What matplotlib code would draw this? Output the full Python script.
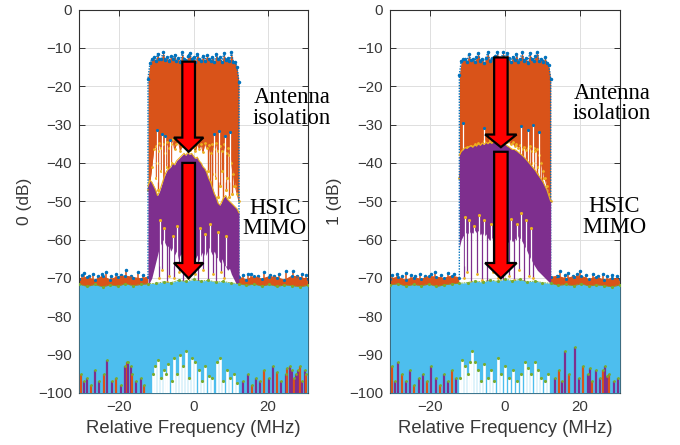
import numpy as np
import matplotlib
matplotlib.use("Agg")
import matplotlib.pyplot as plt
from matplotlib.patches import FancyArrow

plt.rcParams['font.family'] = ['Liberation Sans', 'DejaVu Sans']

BLUE = '#0072BD'
ORANGE = '#D95319'
YELLOW = '#EDB120'
PURPLE = '#7E2F8E'
GREEN = '#77AC30'
CYAN = '#4DBEEE'
BAND = 12.2

# frequency grids (MHz)
band_f = np.linspace(-BAND, BAND, 49)
floor_f = np.array([-30.7, -28.6, -26.5, -24.4, -22.4, -20.3, -18.3, -16.2, -14.2, -12.2,
                    -10, -8, -6, -4, -2, 0, 2, 4, 6, 8, 10,
                    12.2, 14.2, 16.2, 18.3, 20.3, 22.4, 24.4, 26.5, 28.6, 30.7])

# ---------------- receiver 0 ----------------
orange_top_0 = [-18, -14, -13, -12.5, -13.5, -11.5, -13, -12.8, -11, -13.2, -12.5, -13.5, -12,
                -13, -11.8, -13.4, -12.6, -13.8, -11.2, -12.9, -13.5, -12.2, -11.3, -13, -12.4,
                -13.6, -11.5, -12.8, -13.3, -12, -13.5, -11.8, -12.9, -13.4, -12.3, -13.7, -11.6,
                -13, -12.5, -13.8, -11.4, -13.1, -12.7, -13.5, -11.2, -13.6, -13.8, -15, -19]
orange_low_0 = [-47, -45, -41, -36.5, -35.5, -37, -34.8, -36.2, -35, -37.5, -34.5, -36, -35.2,
                -33.8, -36.5, -35, -34.2, -36.8, -35.5, -34, -36, -35.3, -36.6, -34.6, -35.8,
                -37, -34.9, -36.3, -35.1, -37.2, -34.7, -36.1, -35.4, -37.5, -35, -36.4, -34.8,
                -37, -35.6, -36.9, -35.2, -37.3, -36, -38, -40, -43, -46, -48, -50]
purple_top_0 = [-46, -44.5, -45, -46, -47, -48.5, -47.5, -46, -44.5, -43, -42, -41.5, -41,
                -40, -40.5, -39.5, -39, -38.5, -38, -37.5, -38, -37.2, -37.8, -37.5, -38.2,
                -38.8, -38.5, -39.5, -40, -41, -41.5, -42.5, -44, -45, -46.5, -48, -49, -50.5,
                -51, -50, -49, -48.5, -49.5, -50, -50.5, -51, -51.5, -52, -53]
purple_low_0 = [-72, -71, -70, -68, -66, -64, -62, -61, -60, -61, -62, -61.5, -63, -62, -64,
                -63, -65, -64, -63.5, -65, -64, -66, -65, -64.5, -66, -65, -64, -65.5, -64, -63,
                -64.5, -63.5, -62, -63, -64, -63, -64.5, -65, -66, -65, -66.5, -67, -68, -67.5,
                -69, -70, -71, -72, -72]
floor_top_0 = [-70.4, -69.8, -70.6, -69.6, -70.5, -69.7, -69.5, -69.9, -70.2, -69.8,
               -70, -70, -70, -70, -70, -70, -70, -70, -70, -70, -70,
               -69.8, -70.5, -69.6, -70.3, -69.7, -69.9, -70.6, -69.5, -69.9, -70.4]
cyan_top_0 = [-71.6, -72.2, -71.7, -72.3, -71.8, -72.1, -71.5, -72.0, -71.7, -71.5,
              -71.4, -71.0, -71.2, -70.6, -70.9, -70.4, -70.8, -70.6, -71.1, -70.9, -71.3,
              -71.5, -71.9, -71.6, -72.1, -71.7, -72.2, -71.8, -72.0, -72.3, -71.9]
floor_spike_f0 = [-30.0, -29.5, -28.1, -27.0, -25.6, -24.6, -23.5, -22.1, -20.9, -19.4, -18.0,
                  -16.8, -15.0, -13.6, 13.4, 14.6, 15.5, 17.2, 19.0, 20.4, 21.7, 22.9, 24.9,
                  26.7, 27.9, 29.0, 30.2]
floor_spike_y0 = [-69.2, -68.6, -69.5, -69.0, -69.4, -69.1, -68.5, -69.6, -69.0, -69.3, -68.0,
                  -69.4, -68.4, -69.2, -69.3, -69.0, -68.9, -69.5, -68.4, -69.2, -69.6, -69.1,
                  -68.3, -68.2, -69.4, -69.0, -69.3]
ogap_f0 = [-10.1, -9.7, -9.4, -8.8, -8.3, -8.0, -7.3, -6.9, -6.6, -6.0, 3.9, 4.3, 5.0, 5.4,
           5.8, 6.5, 7.2, 7.6, 8.0, 8.7, 9.1, 9.5, 10.3, 10.8]
ogap_y0 = [-44, -40, -47, -42, -46, -45, -41, -44, -43, -40, -42, -45, -48, -43, -44, -49, -46,
           -42, -50, -47, -44, -49, -48, -46]
onotch_f0 = [-9.8, -8.5, -7.6, -6.2, 5.4, 6.9, 8.4, 9.9]
onotch_y0 = [-31.5, -32.5, -33, -34, -32.5, -31.8, -33, -32]
pspike_f0 = [-9.3, -8.4, -7.2, -6.5, -5.1, -3.8, -2.9, -1.6, 0.4, 1.3, 2.6, 3.9, 5.2, 6.1, 7.4, 8.3]
pspike_y0 = [-70, -68, -71, -69.5, -70, -68.5, -71, -70, -69, -71, -68, -70.5, -69, -71, -68.5, -70]
pnotch_f0 = [-8.9, -7.8, -5.6, -4.4, -2.2, -0.9, 1.8, 3.1, 4.5, 6.7, 8.8]
pnotch_y0 = [-55, -57, -59, -56.5, -58, -60, -57, -58.5, -56, -58, -59]
cgap_in_f0 = [-10.8, -10.2, -9.5, -8.6, -7.9, -7.4, -6.8, -5.9, -5.2, -4.3, -3.5, -2.8, -2.1,
              -1.2, -0.4, 0.5, 1.4, 2.3, 3.2, 4.1, 5.0, 6.2, 7.1, 8.0, 8.9, 9.8, 10.9, 11.8]
cgap_in_y0 = [-95, -93, -91.5, -96, -94, -95, -92.5, -97, -91, -95, -90, -93, -89, -96, -91,
              -92, -94, -97, -93, -95.5, -96, -92, -91, -97, -94, -96, -95, -97.5]
cgap_out_f0 = [-30.2, -29.4, -28.6, -27.5, -26.3, -25.4, -24.1, -23.2, -22.0, -20.8, -19.5,
               -18.4, -17.9, -17.6, -16.9, -16.5, -15.3, -14.2, -13.3, 13.4, 14.5, 15.6, 16.8,
               17.9, 19.0, 20.2, 21.3, 22.5, 23.6, 24.7, 25.2, 25.8, 26.4, 26.9, 27.5, 28.1,
               28.6, 29.2, 29.8, 30.3]
cgap_out_y0 = [-95, -97, -96, -98, -94, -97, -95, -91.5, -97, -96, -98, -93, -92, -92, -93,
               -95, -97, -96, -98, -97, -95, -98, -96, -97, -94, -96, -93, -94.5, -97, -95,
               -93.5, -93, -94, -96, -95, -94, -93, -97, -94, -95]

# ---------------- receiver 1 ----------------
orange_top_1 = [-17, -13.5, -13, -12.8, -13.6, -11.6, -13.2, -12.9, -13.7, -12.4, -11.4, -13.3,
                -12.8, -13.9, -12.6, -11.1, -13.4, -12.7, -13.5, -12.2, -11.2, -13.6, -12.9,
                -11.0, -13.1, -11.3, -12.6, -13.8, -12.3, -13.2, -11.5, -13.6, -12.8, -11.2,
                -13.4, -12.7, -13.9, -11.3, -12.9, -13.3, -12.1, -11.1, -13.5, -12.8, -13.6,
                -12.4, -13.9, -14.5, -18]
orange_low_1 = [-44, -40, -37, -36.5, -35.8, -36.2, -35.5, -36, -35.2, -35.9, -34.8, -35.6, -35,
                -34.4, -35.3, -34.7, -34, -34.9, -34.2, -33.8, -34.6, -34, -33.5, -34.3, -33.8,
                -34.5, -34, -35.2, -34.6, -35.5, -35, -36, -35.4, -36.3, -35.8, -36.6, -36,
                -35.5, -36.8, -36.2, -37, -36.5, -38, -40, -42, -44, -46, -48, -50]
purple_top_1 = [-38, -37, -36.5, -36, -36.2, -35.8, -35.5, -35.9, -35.3, -35.6, -35, -35.4,
                -34.8, -35.2, -34.6, -35, -34.5, -34.9, -34.4, -34.8, -34.5, -35, -34.7, -35.2,
                -35, -35.5, -35.8, -36.2, -36.5, -36.5, -36.8, -37.2, -37.6, -38, -38.5, -39,
                -39.6, -40.2, -40.8, -41.4, -42, -42.8, -43.5, -44.2, -45, -46, -47, -48.5, -50]
purple_low_1 = [-62, -60, -59, -58.5, -58, -58.6, -57.8, -58.4, -57.5, -58.2, -57.6, -58.8, -58,
                -59.2, -58.5, -59.6, -60.2, -59.4, -60.8, -61.2, -60.5, -61.8, -62.5, -61.6,
                -62.2, -61, -60.4, -59.8, -60.6, -59.6, -60.2, -59, -59.8, -60.5, -61.5, -62.4,
                -63.5, -64.6, -65.5, -66.4, -67.2, -68, -68.5, -69, -69.5, -70, -70.5, -71, -71.5]
floor_top_1 = [-70.3, -69.8, -70.6, -69.9, -70.4, -69.6, -69.8, -70.1, -69.5, -70.0,
               -70, -70, -70, -70, -70, -70, -70, -70, -70, -70, -70,
               -69.8, -69.6, -70.2, -69.7, -69.5, -70.4, -69.8, -70.6, -70.1, -70.4]
cyan_top_1 = [-71.8, -71.5, -72.1, -71.7, -72.0, -71.6, -72.2, -71.8, -71.5, -71.4,
              -71.2, -70.8, -71.1, -70.5, -70.9, -70.3, -70.7, -70.4, -71.0, -70.8, -71.2,
              -71.4, -71.9, -71.7, -72.0, -71.5, -72.1, -71.8, -72.0, -72.3, -71.8]
floor_spike_f1 = [-30.1, -28.9, -27.6, -26.5, -25.2, -24.0, -22.6, -21.4, -19.9, -18.6, -17.2,
                  -15.2, -13.5, 13.8, 14.8, 16.0, 16.9, 18.2, 19.3, 20.0, 21.6, 23.5, 24.8,
                  26.1, 27.3, 28.7, 30.0]
floor_spike_y1 = [-69.3, -69.0, -69.5, -68.8, -69.2, -69.4, -68.9, -69.5, -69.1, -68.4, -69.3,
                  -68.6, -69.0, -69.4, -68.3, -69.2, -68.8, -69.5, -69.1, -68.2, -69.3, -68.9,
                  -69.4, -69.0, -69.5, -69.2, -69.4]
ogap_f1 = [4.1, 4.5, 4.8, 5.5, 5.9, 6.3, 7.0, 7.4, 7.8, 8.5, 8.9, 9.3, 10.0, 10.5]
ogap_y1 = [-41, -39, -43, -40, -42, -44, -42, -40, -45, -43, -41, -46, -45, -44]
onotch_f1 = [-11.3, -5.6, 4.4, 6.1, 7.5, 9.0]
onotch_y1 = [-29.5, -31, -30.5, -31.5, -30, -32]
pspike_f1 = [-11.0, -10.2, -9.1, -7.5, -6.2, -4.9, -3.1, -1.8, -0.5, 1.1, 2.4, 3.8, 5.0, 6.4, 7.6]
pspike_y1 = [-70, -68.5, -71, -69, -70.5, -71, -68.5, -70, -71, -69.5, -70.5, -68, -71, -69.5, -70]
pnotch_f1 = [-10.6, -9.6, -8.3, -7.0, -5.5, -3.8, -2.4, 0.3, 1.7, 3.2, 4.4, 5.7, 7.0]
pnotch_y1 = [-54, -55, -56.5, -53.5, -55, -56, -57, -55.5, -54.5, -56, -53, -55, -57]
cgap_in_f1 = [-12.0, -11.4, -10.6, -9.8, -9.3, -8.8, -8.0, -7.1, -6.3, -5.6, -4.6, -3.7, -2.9,
              -2.0, -1.0, 0.1, 1.2, 2.2, 3.3, 4.4, 5.3, 6.1, 7.0, 7.9, 8.7, 9.6, 10.6, 11.6]
cgap_in_y1 = [-96, -91.5, -93, -95, -92, -89, -92, -94, -97, -92.5, -96, -94, -97, -91, -95,
              -93, -96, -94, -97, -95, -92, -93.5, -95, -92, -94, -96, -97, -95]
cgap_out_f1 = [-30.3, -29.5, -28.5, -27.6, -26.5, -25.3, -24.2, -23.0, -21.9, -20.9, -19.7,
               -18.5, -17.4, -16.4, -15.2, -14.1, -13.2, 13.3, 14.3, 15.3, 16.0, 17.1, 18.7,
               19.8, 20.9, 22.1, 22.7, 23.2, 24.4, 25.5, 26.1, 26.7, 27.3, 27.9, 29.1, 30.2]
cgap_out_y1 = [-93, -97, -92, -95, -97, -94, -98, -96, -95, -97, -93, -96, -98, -95, -97,
               -94, -96, -96, -94, -97, -89, -95, -88, -96, -93, -95, -93.5, -97, -94, -96,
               -94, -93, -95.5, -95, -97, -96]

panels = [
    dict(otop=orange_top_0, olow=orange_low_0, ptop=purple_top_0, plow=purple_low_0,
         ftop=floor_top_0, ctop=cyan_top_0, fsf=floor_spike_f0, fsy=floor_spike_y0,
         ogf=ogap_f0, ogy=ogap_y0, onf=onotch_f0, ony=onotch_y0, psf=pspike_f0, psy=pspike_y0,
         pnf=pnotch_f0, pny=pnotch_y0, cif=cgap_in_f0, ciy=cgap_in_y0,
         cof=cgap_out_f0, coy=cgap_out_y0, ylabel='0 (dB)', ylab_x=-0.205,
         arrows=[(-1.3, -13.6, -37.1, 3.4, 7.9, 3.7), (-1.3, -40.0, -70.1, 3.4, 7.9, 4.0)],
         ant=(26.4, -25.7), hsic=(21.8, -54.6)),
    dict(otop=orange_top_1, olow=orange_low_1, ptop=purple_top_1, plow=purple_low_1,
         ftop=floor_top_1, ctop=cyan_top_1, fsf=floor_spike_f1, fsy=floor_spike_y1,
         ogf=ogap_f1, ogy=ogap_y1, onf=onotch_f1, ony=onotch_y1, psf=pspike_f1, psy=pspike_y1,
         pnf=pnotch_f1, pny=pnotch_y1, cif=cgap_in_f1, ciy=cgap_in_y1,
         cof=cgap_out_f1, coy=cgap_out_y1, ylabel='1 (dB)', ylab_x=-0.21,
         arrows=[(-1.1, -12.5, -35.9, 3.6, 8.4, 3.3), (-1.1, -37.1, -70.1, 3.6, 8.4, 4.0)],
         ant=(28.6, -24.5), hsic=(29.2, -54.1)),
]


def draw_panel(ax, p):
    out = np.abs(floor_f) >= BAND
    ftop = np.array(p['ftop'], dtype=float)
    # orange noise floor outside the band
    ax.fill_between(floor_f, -76, ftop, where=out, color=ORANGE, lw=0, zorder=2)
    ax.vlines(p['fsf'], -72, p['fsy'], color=ORANGE, lw=1.1, zorder=2)
    ax.plot(p['fsf'], p['fsy'], ls='none', marker='.', ms=3, color=BLUE, zorder=2.1)
    ax.plot(floor_f, np.where(out, ftop, np.nan), color=ORANGE, lw=0.8, marker='.',
            ms=2.5, mfc=BLUE, mec=BLUE, zorder=2.1)

    # signal before cancellation
    ax.vlines(p['ogf'], p['ogy'], -30, color=ORANGE, lw=1.0, zorder=1.9)
    ax.plot(p['ogf'], p['ogy'], ls='none', marker='.', ms=2.5, color=YELLOW, zorder=1.95)
    ax.fill_between(band_f, p['olow'], p['otop'], color=ORANGE, lw=0, zorder=2)
    ax.plot(band_f, p['olow'], color=ORANGE, lw=0.7, marker='.', ms=2, mfc=YELLOW,
            mec=YELLOW, zorder=2.2)
    ax.vlines(p['onf'], -45, p['ony'], color='white', lw=0.9, zorder=2.3)
    ax.plot(p['onf'], p['ony'], ls='none', marker='.', ms=2.5, color=BLUE, zorder=2.35)
    ax.plot(np.r_[-BAND, band_f, BAND], np.r_[-70, p['otop'], -70], color=BLUE, lw=1.0,
            ls=(0, (1, 1)), zorder=2.4)
    ax.plot(band_f, p['otop'], ls='none', marker='.', ms=3, color=BLUE, zorder=2.4)

    # after HSIC
    ax.vlines(p['psf'], p['psy'], -55, color=PURPLE, lw=0.9, zorder=3)
    ax.fill_between(band_f, p['plow'], p['ptop'], color=PURPLE, lw=0, zorder=3)
    ax.plot(band_f, p['ptop'], color=YELLOW, lw=0.8, zorder=3.2)
    ax.vlines(p['pnf'], -67, p['pny'], color='white', lw=0.9, zorder=3.1)
    ax.plot(p['pnf'], p['pny'], ls='none', marker='.', ms=2.5, color=YELLOW, zorder=3.15)
    ax.plot(p['psf'], p['psy'], ls='none', marker='.', ms=2, color=YELLOW, zorder=3.15)

    # after MIMO decoding: residual noise floor
    ax.fill_between(floor_f, -100, p['ctop'], color=CYAN, lw=0, zorder=4)
    ax.vlines(p['cif'], -100, p['ciy'], color='white', lw=1.9, zorder=4.1)
    ax.plot(p['cif'], p['ciy'], ls='none', marker='.', ms=2.5, color=GREEN, zorder=4.2)
    cols = [PURPLE if i % 3 else ORANGE for i in range(len(p['cof']))]
    ax.vlines(p['cof'], -100, p['coy'], colors=cols, lw=1.6, zorder=4.1)
    ax.plot(p['cof'], p['coy'], ls='none', marker='.', ms=2, color=GREEN, zorder=4.2)
    ax.plot(floor_f, p['ctop'], color=GREEN, lw=0.6, ls=(0, (2, 1)), marker='.', ms=2.5,
            zorder=4.3)

    for x, y0, y1, w, hw, hl in p['arrows']:
        ax.add_patch(FancyArrow(x, y0, 0, y1 - y0, width=w, head_width=hw, head_length=hl,
                                length_includes_head=True, fc='#FF0000', ec='black',
                                lw=1.6, zorder=6))

    txt = dict(family=['Liberation Serif', 'DejaVu Serif'], fontsize=16.3, ha='center',
               va='center', multialignment='center', linespacing=0.95, clip_on=False,
               zorder=7)
    ax.text(*p['ant'], 'Antenna\nisolation', **txt)
    ax.text(*p['hsic'], 'HSIC\nMIMO', **txt)

    ax.set_xlim(-30.72, 30.72)
    ax.set_ylim(-100, 0)
    ax.set_xticks([-20, 0, 20])
    ax.set_yticks(np.arange(-100, 1, 10))
    ax.grid(True, color='#dedede', lw=0.7)
    ax.set_axisbelow(True)
    ax.tick_params(direction='in', top=True, right=True, length=4, width=0.7,
                   labelsize=10.8, labelcolor='#383838', color='#303030', pad=5)
    for s in ax.spines.values():
        s.set_color('#303030')
        s.set_linewidth(0.8)
    ax.set_xlabel('Relative Frequency (MHz)', fontsize=13.3, color='#383838')
    ax.set_ylabel(p['ylabel'], fontsize=12.5, color='#383838')
    ax.xaxis.set_label_coords(0.5, -0.07)
    ax.yaxis.set_label_coords(p['ylab_x'], 0.5)


fig = plt.figure(figsize=(6.8, 4.45), dpi=100)
ax0 = fig.add_axes([79 / 680, 52 / 445, 229 / 680, 383.5 / 445])
ax1 = fig.add_axes([390 / 680, 52 / 445, 230 / 680, 383.5 / 445])
draw_panel(ax0, panels[0])
draw_panel(ax1, panels[1])
fig.savefig('out.png', dpi=100)
